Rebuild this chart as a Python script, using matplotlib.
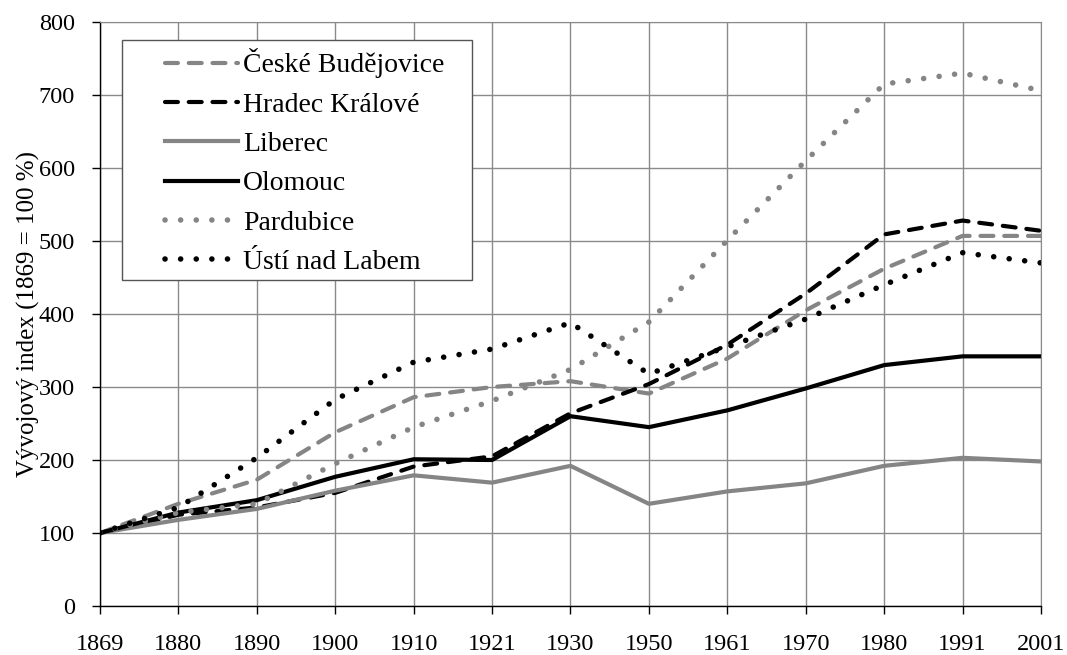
import matplotlib
matplotlib.use("Agg")
import matplotlib.pyplot as plt
from matplotlib.patches import Rectangle

# years are drawn as evenly spaced categories
years = ["1869", "1880", "1890", "1900", "1910", "1921", "1930",
         "1950", "1961", "1970", "1980", "1991", "2001"]

ceske_budejovice = [100, 140, 173, 238, 286, 300, 308, 291, 339, 405, 462, 507, 507]
hradec_kralove = [100, 125, 135, 155, 191, 205, 264, 304, 358, 428, 509, 528, 514]
liberec = [100, 118, 133, 158, 179, 169, 192, 140, 157, 168, 192, 203, 198]
olomouc = [100, 128, 145, 177, 201, 200, 260, 245, 268, 298, 330, 342, 342]
pardubice = [100, 128, 140, 195, 245, 281, 324, 389, 501, 610, 715, 730, 706]
usti_nad_labem = [100, 135, 203, 283, 334, 352, 388, 318, 355, 393, 440, 484, 470]

plt.rcParams["font.family"] = ["Liberation Serif", "DejaVu Serif"]

GRAY = "#858585"
dash = (0, (3.1, 2.6))
dot = (0, (0.01, 2.8))

fig = plt.figure(figsize=(10.67, 6.55), dpi=100)
ax = fig.add_axes([0.0937, 0.0748, 0.8819, 0.8916])

x = range(len(years))
lw = 3.0
ax.plot(x, ceske_budejovice, color=GRAY, lw=lw, ls=dash, dash_capstyle="round",
        label="České Budějovice")
ax.plot(x, hradec_kralove, color="black", lw=lw, ls=dash, dash_capstyle="round",
        label="Hradec Králové")
ax.plot(x, liberec, color=GRAY, lw=lw, label="Liberec")
ax.plot(x, olomouc, color="black", lw=lw, label="Olomouc")
ax.plot(x, pardubice, color=GRAY, lw=4.0, ls=dot, dash_capstyle="round",
        label="Pardubice")
ax.plot(x, usti_nad_labem, color="black", lw=4.0, ls=dot, dash_capstyle="round",
        label="Ústí nad Labem")

ax.set_xlim(0, len(years) - 1)
ax.set_ylim(0, 800)
ax.set_xticks(list(x))
ax.set_xticklabels(years)
ax.set_yticks(range(0, 801, 100))
ax.grid(True, color="#8a8a8a", lw=1.0)
ax.set_axisbelow(True)
ax.tick_params(labelsize=17.5, length=6, color="black", width=1)
ax.tick_params(axis="x", pad=14)
ax.tick_params(axis="y", pad=12)
ax.set_ylabel("Vývojový index (1869 = 100 %)", fontsize=18, labelpad=-1)

for side in ["top", "right"]:
    ax.spines[side].set_color("#8a8a8a")
for side in ["left", "bottom"]:
    ax.spines[side].set_color("black")
    ax.spines[side].set_linewidth(1.0)

# legend box drawn by hand so the padding can differ left/top
box = Rectangle((0.0234, 0.558), 0.372, 0.411, transform=ax.transAxes,
                facecolor="white", edgecolor="#555555", lw=1.0, zorder=4)
ax.add_patch(box)
leg = ax.legend(loc="upper left", bbox_to_anchor=(0.069, 0.955), fontsize=20,
                handlelength=2.63, handletextpad=0.18, labelspacing=0.5,
                borderpad=0, frameon=False, borderaxespad=0)
leg.set_zorder(5)

fig.savefig("out.png", dpi=100)
